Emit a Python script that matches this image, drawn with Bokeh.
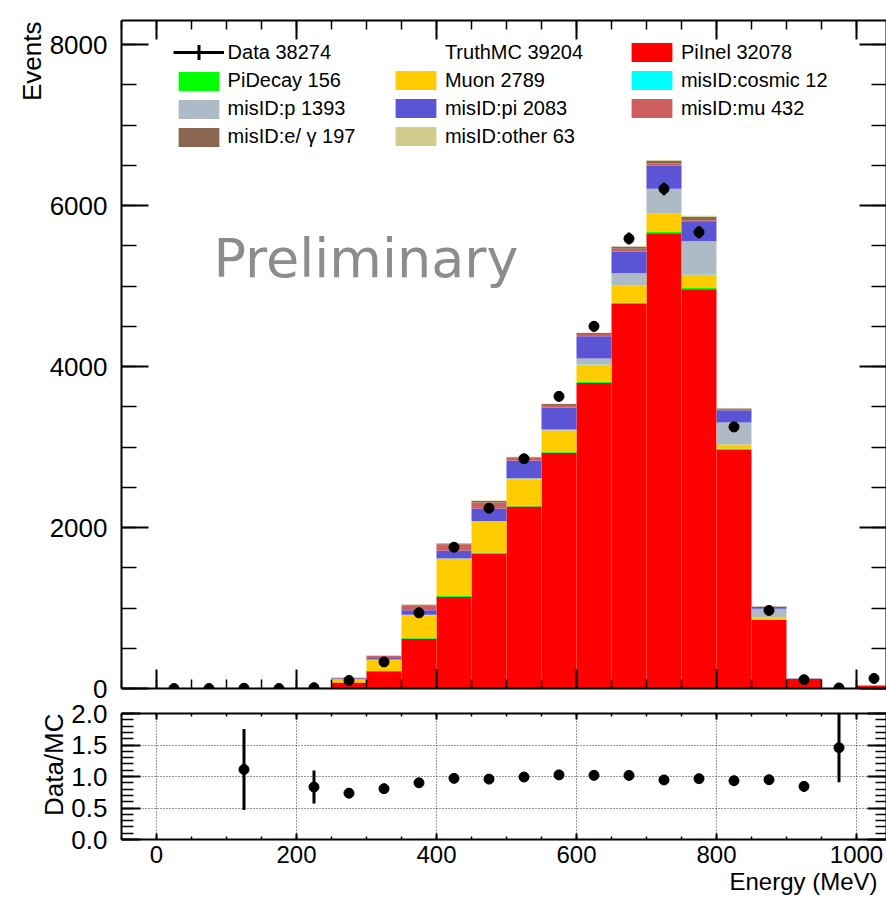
import numpy as np
from bokeh.plotting import figure
from bokeh.layouts import column
from bokeh.models import (ColumnDataSource, LinearAxis, Range1d, SingleIntervalTicker,
                          Legend, LegendItem, Label, Title, PrintfTickFormatter,
                          CustomLabelingPolicy)
from bokeh.embed import file_html
from bokeh.resources import INLINE

# ---------------------------------------------------------------
# Reconstructed energy, 50 MeV bins (bin centres in MeV)
# ---------------------------------------------------------------
bin_centers = [25, 75, 125, 175, 225, 275, 325, 375, 425, 475, 525,
               575, 625, 675, 725, 775, 825, 875, 925, 975, 1025]
bin_width = 50

# selected data events per bin
data_counts = [0, 0, 3, 0, 10, 100, 330, 940, 1755, 2240, 2855,
               3630, 4500, 5590, 6209, 5670, 3250, 970, 110, 7, 125]

# MC components per bin (stack order, bottom to top)
mc_piinel = [0, 0, 1, 0, 3, 73, 214, 618, 1136, 1678, 2260,
             2929, 3796, 4776, 5657, 4960, 2969, 851, 118, 1, 38]
mc_pidecay = [0, 0, 0, 0, 0, 2, 4, 10, 12, 12, 14,
              15, 16, 18, 20, 16, 12, 4, 1, 0, 0]
mc_muon = [0, 0, 1, 0, 8, 37, 138, 280, 460, 380, 327,
           261, 211, 215, 228, 166, 50, 25, 2, 0, 0]
mc_cosmic = [0, 0, 0, 0, 0, 0, 0, 0, 1, 1, 1,
             2, 2, 2, 2, 1, 0, 0, 0, 0, 0]
mc_misid_p = [0, 0, 0, 0, 0, 2, 3, 8, 10, 10, 12,
              12, 75, 150, 302, 414, 275, 112, 6, 1, 1]
mc_misid_pi = [0, 0, 0.7, 0, 1, 14, 20, 55, 93, 155, 220,
               273, 278, 269, 286, 240, 150, 22, 2.5, 2.8, 1]
mc_misid_mu = [0, 0, 0, 0, 0, 6, 25, 62, 80, 75, 30,
               30, 27, 35, 31, 20, 8, 3, 0, 0, 0]
mc_misid_e = [0, 0, 0, 0, 0, 1, 4, 8, 11, 20, 10,
              12, 11, 23, 32, 46, 15, 3, 1, 0, 0]
mc_misid_other = [0, 0, 0, 0, 0, 1, 1, 4, 5, 5, 5,
                  5, 5, 6, 10, 10, 4, 2, 0, 0, 0]

stack_keys = ["piinel", "pidecay", "muon", "cosmic", "misid_p",
              "misid_pi", "misid_mu", "misid_e", "misid_other"]
stack_values = [mc_piinel, mc_pidecay, mc_muon, mc_cosmic, mc_misid_p,
                mc_misid_pi, mc_misid_mu, mc_misid_e, mc_misid_other]
stack_colors = ["#ff0000", "#00ff00", "#ffcc00", "#00ffff", "#aebac6",
                "#5b55d6", "#cd5f5f", "#8a6653", "#d2cd8c"]

legend_data = "Data 38274"
legend_truth = "TruthMC 39204"
legend_mc = ["PiInel 32078", "PiDecay 156", "Muon 2789", "misID:cosmic 12",
             "misID:p 1393", "misID:pi 2083", "misID:mu 432",
             "misID:e/ \u03b3 197", "misID:other 63"]

FONT = "Liberation Sans"

# ---------------------------------------------------------------
# derived quantities
# ---------------------------------------------------------------
centers = np.array(bin_centers, dtype=float)
data = np.array(data_counts, dtype=float)
mc_total = np.sum(np.array(stack_values, dtype=float), axis=0)
data_err = np.sqrt(data)

with np.errstate(divide="ignore", invalid="ignore"):
    ratio = np.where(mc_total > 0, data / mc_total, np.nan)
    ratio_err = np.where(mc_total > 0, data_err / mc_total, np.nan)

stack_src = ColumnDataSource(dict(x=centers, **{k: v for k, v in zip(stack_keys, stack_values)}))
data_src = ColumnDataSource(dict(x=centers, y=data, lo=data - data_err, hi=data + data_err))
ratio_src = ColumnDataSource(dict(x=centers, y=ratio, lo=ratio - ratio_err, hi=ratio + ratio_err))

# mirror axes (top / right) carry tick marks only
NO_LABELS = "for (const i of Array.from(indices)) indices.unset(i); return indices"


def style_axis(ax, ticker, major_in, minor_in, label_size=None, standoff=0, fmt=None):
    ax.ticker = ticker
    ax.axis_line_color = "black"
    ax.axis_line_width = 2
    ax.major_tick_line_color = "black"
    ax.major_tick_line_width = 2
    ax.minor_tick_line_color = "black"
    ax.minor_tick_line_width = 1.5
    ax.major_tick_in = major_in
    ax.major_tick_out = 0
    ax.minor_tick_in = minor_in
    ax.minor_tick_out = 0
    ax.major_label_text_font = FONT
    ax.major_label_text_color = "black"
    ax.major_label_standoff = standoff
    if label_size:
        ax.major_label_text_font_size = label_size
    else:
        ax.major_label_text_font_size = "1px"
        ax.major_label_policy = CustomLabelingPolicy(code=NO_LABELS)
    if fmt is not None:
        ax.formatter = fmt


def axis_title(text, size, align, offset):
    return Title(text=text, align=align, offset=offset, standoff=0,
                 text_font=FONT, text_font_size=size, text_font_style="normal",
                 text_color="black")


x_range = Range1d(-50, 1042.86)

# ---------------------------------------------------------------
# upper panel: stacked MC + data
# ---------------------------------------------------------------
top = figure(frame_width=765, frame_height=668, x_range=x_range, y_range=Range1d(0, 8300),
             output_backend="svg", toolbar_location=None,
             min_border_left=121, min_border_right=0, min_border_top=20, min_border_bottom=16,
             background_fill_color="white", border_fill_color="white", outline_line_color=None)
top.xgrid.visible = False
top.ygrid.visible = False

style_axis(top.yaxis[0], SingleIntervalTicker(interval=2000, num_minor_ticks=4), 27, 15,
           label_size="26px", standoff=14)
style_axis(top.xaxis[0], SingleIntervalTicker(interval=200, num_minor_ticks=4), 19, 9)
ax_r = LinearAxis()
style_axis(ax_r, SingleIntervalTicker(interval=2000, num_minor_ticks=4), 27, 15)
top.add_layout(ax_r, "right")
ax_t = LinearAxis()
style_axis(ax_t, SingleIntervalTicker(interval=200, num_minor_ticks=4), 19, 9)
top.add_layout(ax_t, "above")
top.add_layout(axis_title("Events", "26px", "right", 1), "left")

stack_r = top.vbar_stack(stack_keys, x="x", width=bin_width, source=stack_src,
                         fill_color=stack_colors, line_color=None)

err_r = top.segment(x0="x", y0="lo", x1="x", y1="hi", source=data_src,
                    line_color="black", line_width=3)
pts_r = top.scatter(x="x", y="y", source=data_src, size=10, marker="circle",
                    fill_color="black", line_color="black")
# zero-size cross: invisible in the plot, gives the data legend entry its cross symbol
cross_r = top.scatter(x="x", y="y", source=data_src, marker="cross", size=0,
                      line_color="black", line_width=3)

top.add_layout(Label(x=81.4, y=4957, text="Preliminary", text_font="DejaVu Sans",
                     text_font_size="54px", text_color="#8c8c8c",
                     text_baseline="bottom"))

legend_kw = dict(glyph_width=51, spacing=4, label_standoff=4, padding=0, margin=0,
                 border_line_color=None, background_fill_alpha=0, label_text_font=FONT,
                 label_text_font_size="20px", label_text_color="black")

leg_data = [LegendItem(label=legend_data, renderers=[err_r, cross_r])]
col1 = [LegendItem(label=legend_mc[1], renderers=[stack_r[1]]),
        LegendItem(label=legend_mc[4], renderers=[stack_r[4]]),
        LegendItem(label=legend_mc[7], renderers=[stack_r[7]])]
col2 = [LegendItem(label=legend_truth, renderers=[]),
        LegendItem(label=legend_mc[2], renderers=[stack_r[2]]),
        LegendItem(label=legend_mc[5], renderers=[stack_r[5]]),
        LegendItem(label=legend_mc[8], renderers=[stack_r[8]])]
col3 = [LegendItem(label=legend_mc[0], renderers=[stack_r[0]]),
        LegendItem(label=legend_mc[3], renderers=[stack_r[3]]),
        LegendItem(label=legend_mc[6], renderers=[stack_r[6]])]

top.add_layout(Legend(items=leg_data, location=(51.6, 617), glyph_height=38, label_height=38,
                      **legend_kw))
top.add_layout(Legend(items=col1, location=(51.6, 539.3), glyph_height=24, label_height=24,
                      **legend_kw))
top.add_layout(Legend(items=col2, location=(268.9, 540), glyph_height=24, label_height=24,
                      **legend_kw))
top.add_layout(Legend(items=col3, location=(504.9, 568), glyph_height=24, label_height=24,
                      **legend_kw))

# ---------------------------------------------------------------
# lower panel: data / MC ratio
# ---------------------------------------------------------------
bottom = figure(frame_width=765, frame_height=126, x_range=x_range, y_range=Range1d(0, 2),
                output_backend="svg", toolbar_location=None,
                min_border_left=121, min_border_right=0, min_border_top=9, min_border_bottom=64,
                background_fill_color="white", border_fill_color="white", outline_line_color=None)

style_axis(bottom.yaxis[0], SingleIntervalTicker(interval=0.5, num_minor_ticks=5), 19, 12,
           label_size="26px", standoff=14, fmt=PrintfTickFormatter(format="%.1f"))
style_axis(bottom.xaxis[0], SingleIntervalTicker(interval=200, num_minor_ticks=4), 6, 3,
           label_size="24px", standoff=6)
bax_r = LinearAxis()
style_axis(bax_r, SingleIntervalTicker(interval=0.5, num_minor_ticks=5), 19, 11)
bottom.add_layout(bax_r, "right")
bax_t = LinearAxis()
style_axis(bax_t, SingleIntervalTicker(interval=200, num_minor_ticks=4), 6, 3)
bottom.add_layout(bax_t, "above")
bottom.add_layout(axis_title("Data/MC", "26px", "right", 0), "left")
bottom.add_layout(axis_title("Energy (MeV)", "24px", "right", 9), "below")

bottom.xgrid.ticker = SingleIntervalTicker(interval=200)
bottom.ygrid.ticker = SingleIntervalTicker(interval=0.5)
for g in (bottom.xgrid, bottom.ygrid):
    g.grid_line_color = "black"
    g.grid_line_width = 1
    g.grid_line_dash = "1 2"
    g.grid_line_alpha = 0.8

bottom.segment(x0="x", y0="lo", x1="x", y1="hi", source=ratio_src,
               line_color="black", line_width=3)
bottom.scatter(x="x", y="y", source=ratio_src, size=10, marker="circle",
               fill_color="black", line_color="black")

layout = column(top, bottom)
open("out.html", "w").write(file_html(layout, INLINE))
